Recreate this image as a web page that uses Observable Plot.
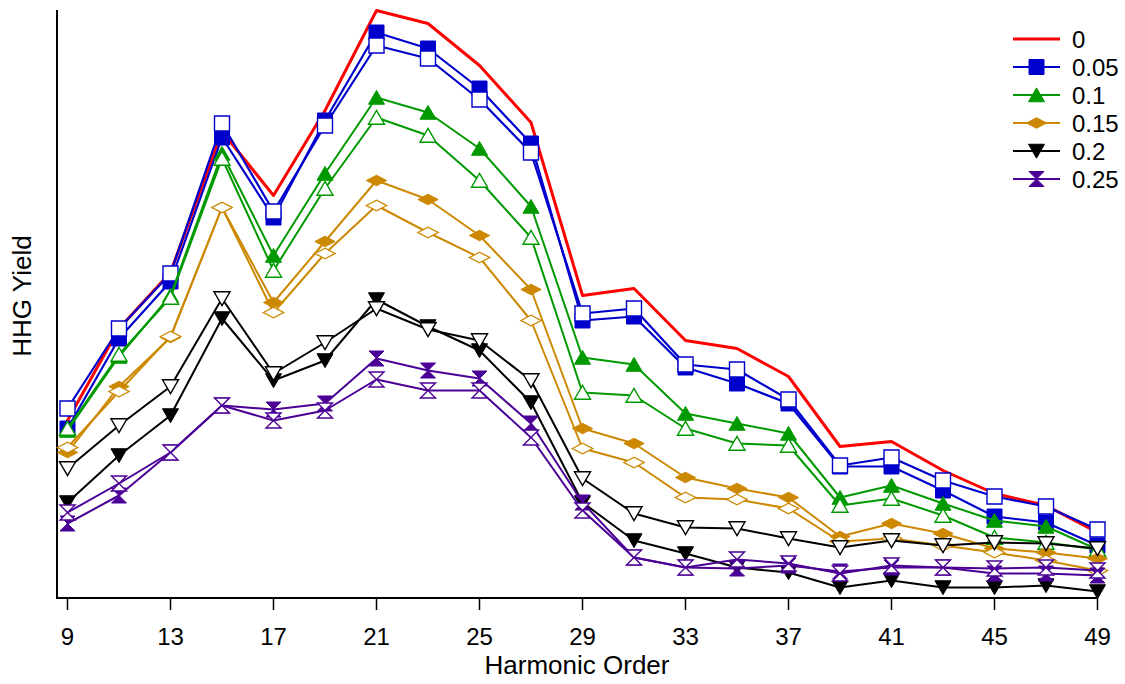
<!DOCTYPE html>
<html>
<head>
<meta charset="utf-8">
<script src="https://cdn.jsdelivr.net/npm/d3@7"></script>
<script src="https://cdn.jsdelivr.net/npm/@observablehq/plot@0.6"></script>
<style>
  body { margin: 0; background: #fff; }
  #chart svg { display: block; }
</style>
</head>
<body>
<div id="chart"></div>
<script>
// Harmonic orders (odd harmonics 9 … 49)
const harmonics = d3.range(9, 50, 2);
const xTicks = d3.range(9, 50, 4);

// Series labels and colours
const ratios = ["0", "0.05", "0.1", "0.15", "0.2", "0.25"];
const colors = ["#ff0000", "#0000cc", "#009900", "#cc8800", "#000000", "#4b0096"];

// HHG yield (arbitrary units); "A" = filled markers, "B" = open markers
const yield0     = [178, 270, 326, 467, 403, 488, 588, 575, 533, 476, 303, 310, 258, 250, 222, 152, 157, 128, 105, 93, 66];
const yield005A  = [170, 260, 317, 461, 381, 478, 566, 550, 510, 455, 278, 282, 231, 215, 195, 132, 132, 108, 82, 76, 53];
const yield005B  = [190, 270, 325, 475, 387, 473, 553, 540, 499, 446, 285, 290, 234, 229, 199, 133, 141, 118, 102, 92, 69];
const yield01A   = [168, 242, 303, 445, 343, 425, 501, 486, 450, 392, 241, 234, 185, 175, 165, 101, 113, 95, 78, 72, 49];
const yield01B   = [170, 244, 301, 440, 328, 410, 481, 463, 418, 361, 206, 203, 170, 155, 153, 93, 100, 83, 61, 56, 49];
const yield015A  = [146, 212, 261, 391, 296, 357, 418, 399, 363, 309, 170, 155, 121, 110, 101, 62, 75, 65, 50, 46, 40];
const yield015B  = [151, 207, 262, 391, 286, 345, 393, 366, 341, 278, 150, 136, 101, 99, 90, 57, 60, 53, 46, 38, 28];
const yield02A   = [96, 143, 183, 280, 218, 238, 299, 272, 248, 196, 96, 58, 45, 31, 26, 11, 18, 11, 11, 13, 7];
const yield02B   = [130, 173, 212, 300, 225, 256, 290, 269, 258, 218, 120, 85, 71, 70, 60, 51, 58, 53, 56, 55, 50];
const yield025A  = [75, 103, 146, 193, 189, 195, 240, 228, 220, 175, 96, 41, 31, 30, 33, 27, 31, 31, 25, 25, 23];
const yield025B  = [86, 115, 146, 193, 178, 188, 219, 208, 208, 161, 88, 41, 31, 39, 35, 25, 33, 31, 30, 31, 28];

// Marker shapes (custom d3 symbol types; r = half-width)
const symType = (fn) => ({ draw(ctx, size) { fn(ctx, Math.sqrt(size / Math.PI)); } });
const square = symType((c, r) => { c.rect(-r, -r, 2 * r, 2 * r); });
const triUp = symType((c, r) => {
  c.moveTo(0, -0.95 * r); c.lineTo(1.07 * r, 0.9 * r); c.lineTo(-1.07 * r, 0.9 * r); c.closePath();
});
const triDown = symType((c, r) => {
  c.moveTo(0, 0.95 * r); c.lineTo(1.07 * r, -0.9 * r); c.lineTo(-1.07 * r, -0.9 * r); c.closePath();
});
const diamond = symType((c, r) => {
  c.moveTo(-1.35 * r, 0); c.lineTo(0, -0.7 * r); c.lineTo(1.35 * r, 0); c.lineTo(0, 0.7 * r); c.closePath();
});
const hourglass = symType((c, r) => {
  c.moveTo(-r, -r); c.lineTo(r, -r); c.lineTo(-r, r); c.lineTo(r, r); c.closePath();
});
const symbols = [null, square, triUp, diamond, triDown, hourglass];

const MARK_R = 7.5;
const FONT = "'Liberation Sans', Arial, sans-serif";

const traces = [
  { k: 0, values: yield0,    filled: true },
  { k: 1, values: yield005A, filled: true },
  { k: 1, values: yield005B, filled: false },
  { k: 2, values: yield01A,  filled: true },
  { k: 2, values: yield01B,  filled: false },
  { k: 3, values: yield015A, filled: true },
  { k: 3, values: yield015B, filled: false },
  { k: 4, values: yield02A,  filled: true },
  { k: 4, values: yield02B,  filled: false },
  { k: 5, values: yield025A, filled: true },
  { k: 5, values: yield025B, filled: false }
];

const traceMarks = traces.flatMap(({ k, values, filled }) => {
  const rows = harmonics.map((h, i) => ({ h, v: values[i] }));
  const color = colors[k];
  const marks = [
    Plot.line(rows, { x: "h", y: "v", stroke: color, strokeWidth: k === 0 ? 3 : (k === 1 ? 2.2 : 2) })
  ];
  if (symbols[k]) {
    marks.push(Plot.dot(rows, {
      x: "h", y: "v", symbol: symbols[k], r: MARK_R,
      fill: filled ? color : "white",
      stroke: color, strokeWidth: filled ? 1 : 1.4
    }));
  }
  return marks;
});

// Left and bottom axis lines, plus axis titles
const frame = (index, scales, values, dims) => {
  const { width: w, height: h, marginLeft: l, marginRight: r, marginTop: t, marginBottom: b } = dims;
  const g = d3.create("svg:g").attr("font-family", FONT).attr("fill", "#000");
  g.append("path")
    .attr("d", `M${l},${t}V${h - b}H${w - r}`)
    .attr("fill", "none").attr("stroke", "#000").attr("stroke-width", 2);
  g.append("text")
    .attr("x", (l + w - r) / 2).attr("y", h - b + 67)
    .attr("text-anchor", "middle").attr("dy", "0.35em")
    .attr("font-size", 26).text("Harmonic Order");
  g.append("text")
    .attr("transform", `translate(${l - 35},${(t + h - b) / 2 - 8}) rotate(-90)`)
    .attr("text-anchor", "middle").attr("dy", "0.35em")
    .attr("font-size", 26).text("HHG Yield");
  return g.node();
};

// Legend in the upper-right corner
const legend = (index, scales, values, dims) => {
  const g = d3.create("svg:g").attr("font-family", FONT);
  const x0 = dims.width - 112, y0 = 39, step = 28;
  ratios.forEach((label, k) => {
    const y = y0 + k * step;
    const row = g.append("g").attr("transform", `translate(${x0},${y})`);
    row.append("line").attr("x1", 0).attr("x2", 47)
      .attr("stroke", colors[k]).attr("stroke-width", k === 0 ? 3 : 2);
    if (symbols[k]) {
      row.append("path")
        .attr("transform", "translate(23.5,0)")
        .attr("d", d3.symbol().type(symbols[k]).size(MARK_R * MARK_R * Math.PI)())
        .attr("fill", colors[k]).attr("stroke", colors[k]).attr("stroke-width", 1);
    }
    row.append("text").attr("x", 59).attr("dy", "0.36em")
      .attr("text-anchor", "start")
      .attr("font-size", 24).attr("fill", "#000").text(label);
  });
  return g.node();
};

const chart = Plot.plot({
  width: 1125,
  height: 684,
  marginLeft: 57,
  marginRight: 28,
  marginTop: 10,
  marginBottom: 86,
  insetLeft: 10,
  style: { fontFamily: FONT, fontSize: "24px", background: "#fff", color: "#000" },
  x: { domain: [9, 49] },
  y: { domain: [0, 588], axis: null },
  marks: [
    Plot.axisX({ ticks: xTicks, tickSize: 12, tickPadding: 17, fontSize: 24, label: null, strokeWidth: 1.5 }),
    frame,
    ...traceMarks,
    legend
  ]
});

document.getElementById("chart").appendChild(chart);
</script>
</body>
</html>
